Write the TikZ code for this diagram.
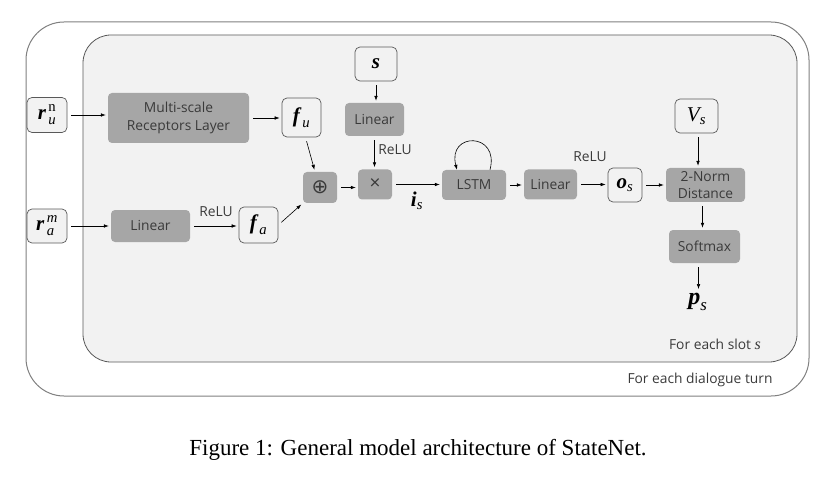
\RequirePackage{fix-cm}
\documentclass[tikz,border=0pt]{standalone}
\usepackage{amsmath}
\usepackage{fontspec}
\setsansfont{Open Sans}
\newfontfamily\capfont{Liberation Serif}
\newfontfamily\mf{Liberation Serif}
\newfontfamily\symf{DejaVu Sans}
\newcommand\bv[1]{\text{\mf\bfseries\itshape #1}}
\newcommand\iv[1]{\text{\mf\itshape #1}}
\newcommand\rv[1]{\text{\mf #1}}
\usetikzlibrary{arrows.meta}
\definecolor{boxgray}{HTML}{A6A6A6}
\definecolor{bordergray}{HTML}{595959}
\definecolor{outergray}{HTML}{808080}
\definecolor{innerfill}{HTML}{F2F2F2}
\definecolor{txt}{HTML}{3A3A3A}
\tikzset{
  gbox/.style={fill=boxgray, rounded corners=4pt, text=txt, inner sep=0pt, align=center,
    font=\sffamily\fontsize{13.8}{17.5}\selectfont},
  wbox/.style={draw=bordergray, fill=innerfill, rounded corners=5pt, line width=0.7pt, inner sep=0pt,
    font=\fontsize{21}{24}\selectfont},
  lbl/.style={text=txt, inner sep=0pt, font=\sffamily\fontsize{13.8}{16}\selectfont},
  arr/.style={-{Latex[length=5pt,width=3.6pt]}, line width=0.6pt, black, shorten <=4pt, shorten >=2pt},
}
\begin{document}
\begin{tikzpicture}[x=1pt,y=-1pt]
\useasboundingbox (0,0) rectangle (824,481);
% frames
\draw[outergray, line width=1pt, rounded corners=38pt] (26,22) rectangle (809,396);
\draw[bordergray, fill=innerfill, line width=0.8pt, rounded corners=28pt] (83,35) rectangle (797,362);
% nodes
\node[wbox, minimum width=40pt, minimum height=35pt] (run) at (47,115) {$\bv{r}_{\,\iv{u}}^{\,\rv{n}}$};
\node[wbox, minimum width=40pt, minimum height=34pt] (ram) at (47,226) {$\bv{r}_{\,\iv{a}}^{\,\iv{m}}$};
\node[gbox, minimum width=141pt, minimum height=50pt] (msrl) at (178.5,118) {Multi-scale\\Receptors Layer};
\node[gbox, minimum width=79pt, minimum height=32pt] (lin1) at (150.5,226) {Linear};
\node[wbox, minimum width=39pt, minimum height=39pt] (fu) at (301.5,117.5) {$\bv{f}_{\,\iv{u}}$};
\node[wbox, minimum width=39pt, minimum height=36pt] (fa) at (258.5,225) {$\bv{f}_{\,\iv{a}}$};
\node[gbox, minimum width=34pt, minimum height=31pt, font=\symf\fontsize{20}{22}\selectfont] (oplus) at (320,187.5) {⊕};
\node[gbox, minimum width=34pt, minimum height=30pt, font=\sffamily\fontsize{19}{20}\selectfont] (times) at (375,184.5) {×};
\node[wbox, minimum width=42pt, minimum height=34pt] (s) at (376,64) {$\bv{s}$};
\node[gbox, minimum width=59pt, minimum height=33pt] (lin2) at (374.5,119.5) {Linear};
\node[gbox, minimum width=64pt, minimum height=30pt] (lstm) at (474,185) {LSTM};
\node[gbox, minimum width=53pt, minimum height=30pt] (lin3) at (550.5,184.5) {Linear};
\node[wbox, minimum width=34pt, minimum height=34pt] (os) at (625,185) {$\bv{o}_{\iv{s}}$};
\node[gbox, minimum width=79pt, minimum height=34pt, font=\sffamily\fontsize{13.8}{16.5}\selectfont] (norm) at (705.5,185) {2-Norm\\Distance};
\node[wbox, minimum width=43pt, minimum height=34pt] (vs) at (696.5,116) {$\iv{V}_{\iv{s}}$};
\node[gbox, minimum width=71pt, minimum height=33pt] (soft) at (704.5,246.5) {Softmax};
\node[inner sep=0pt, font=\fontsize{24}{26}\selectfont] (ps) at (698,302) {$\bv{p}_{\iv{s}}$};
% labels
\node[lbl] (relu1) at (216,212) {ReLU};
\node[lbl] (relu2) at (395,150) {ReLU};
\node[lbl] (relu3) at (590,157) {ReLU};
\node[inner sep=0pt, font=\fontsize{21}{24}\selectfont] (is) at (417,201) {$\bv{i}_{\iv{s}}$};
\node[lbl] (slot) at (715,344) {For each slot {\mf\itshape\fontsize{16}{16}\selectfont s}};
\node[lbl] (turn) at (700,380) {For each dialogue turn};
\node[inner sep=0pt, font=\capfont\fontsize{23}{27}\selectfont] (cap) at (418,450) {Figure 1: General model architecture of StateNet.};
% connectors
\draw[arr] (run.east) -- (run.east -| msrl.west);
\draw[arr] (ram.east) -- (ram.east -| lin1.west);
\draw[arr] (msrl.east) -- (msrl.east -| fu.west);
\draw[arr] (lin1.east) -- (lin1.east -| fa.west);
\draw[arr] ([xshift=4pt]fu.south) -- ([xshift=-5pt]oplus.north);
\draw[arr] (fa.east) -- (oplus.south west);
\draw[arr] (oplus.east) -- (oplus.east -| times.west);
\draw[arr] (s.south) -- (s.south |- lin2.north);
\draw[arr] (lin2.south) -- (lin2.south |- times.north);
\draw[arr] (times.east) -- (times.east -| lstm.west);
\draw[arr] (lstm.east) -- (lstm.east -| lin3.west);
\draw[arr] (lin3.east) -- (lin3.east -| os.west);
\draw[arr] (os.east) -- (os.east -| norm.west);
\draw[arr] ([xshift=1.5pt]vs.south) -- ([xshift=1.5pt]vs.south |- norm.north);
\draw[arr] ([xshift=-3pt]norm.south) -- ([xshift=-3pt]norm.south |- soft.north);
\draw[arr, shorten >=4pt] ([xshift=-6pt]soft.south) -- ([xshift=-6pt]soft.south |- ps.north);
\draw[-{Latex[length=5pt,width=3.6pt]}, line width=0.6pt] ([xshift=16pt]lstm.north) .. controls ([xshift=26pt,yshift=38pt]lstm.north) and ([xshift=-27pt,yshift=38pt]lstm.north) .. ([xshift=-17pt]lstm.north);
\end{tikzpicture}
\end{document}
